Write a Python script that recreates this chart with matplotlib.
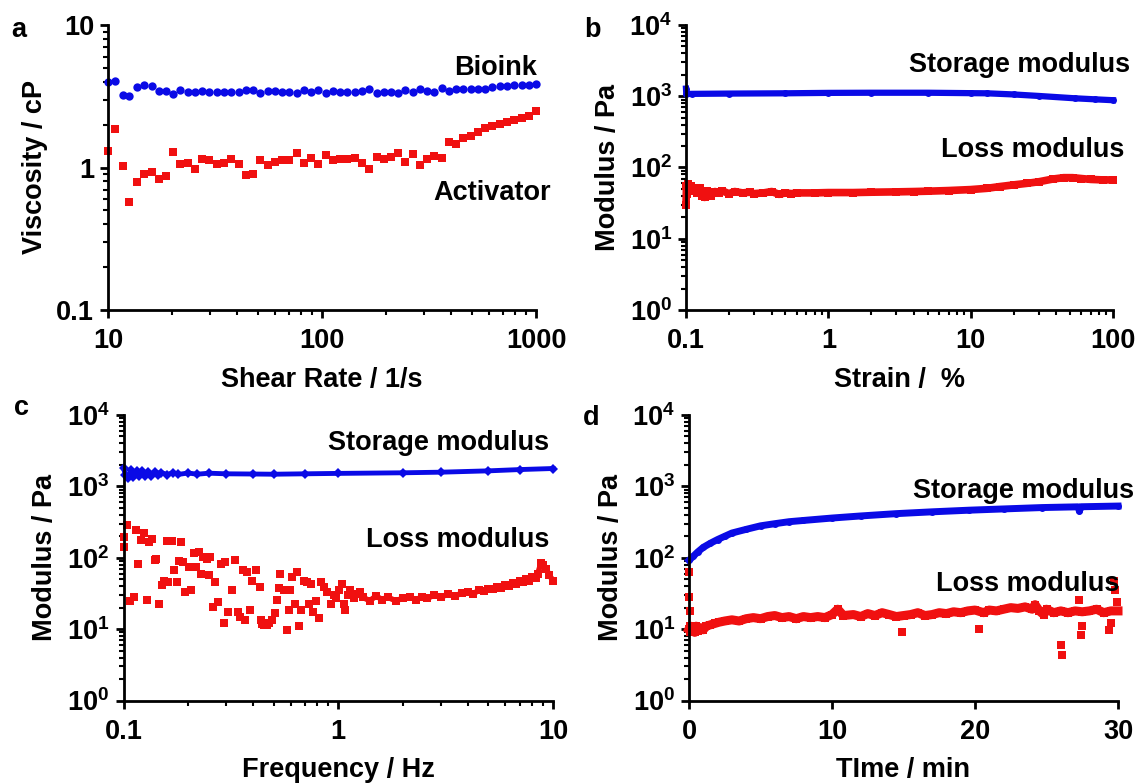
import matplotlib.pyplot as plt
from matplotlib.ticker import NullFormatter

plt.rcParams['font.family'] = ['Liberation Sans', 'DejaVu Sans']
plt.rcParams['font.weight'] = 'bold'
plt.rcParams['axes.labelweight'] = 'bold'
plt.rcParams['mathtext.fontset'] = 'custom'
plt.rcParams['mathtext.rm'] = 'Liberation Sans:bold'
plt.rcParams['mathtext.it'] = 'Liberation Sans:bold'
plt.rcParams['mathtext.bf'] = 'Liberation Sans:bold'

BLUE = '#0a0ae6'
RED = '#f01010'
FS = 19.5

# --- a: viscosity vs shear rate
a_shear = [10.0, 10.8, 11.7, 12.6, 13.7, 14.8, 16.0, 17.3, 18.7, 20.2,
           21.8, 23.6, 25.5, 27.6, 29.8, 32.3, 34.9, 37.7, 40.8, 44.1,
           47.7, 51.5, 55.7, 60.2, 65.1, 70.4, 76.1, 82.3, 89.0, 96.2,
           104, 112, 122, 131, 142, 154, 166, 180, 194, 210,
           227, 245, 265, 287, 310, 335, 363, 392, 424, 458,
           496, 536, 579, 626, 677, 732, 792, 856, 925, 1000]
a_bioink = [4.00, 4.06, 3.23, 3.18, 3.65, 3.78, 3.73, 3.44, 3.44, 3.26,
            3.50, 3.40, 3.40, 3.46, 3.37, 3.39, 3.37, 3.37, 3.39, 3.50,
            3.50, 3.33, 3.46, 3.44, 3.40, 3.40, 3.32, 3.50, 3.37, 3.50,
            3.33, 3.44, 3.37, 3.37, 3.37, 3.44, 3.56, 3.33, 3.37, 3.37,
            3.32, 3.50, 3.37, 3.56, 3.46, 3.40, 3.61, 3.42, 3.57, 3.56,
            3.56, 3.56, 3.57, 3.69, 3.73, 3.75, 3.77, 3.77, 3.81, 3.83]
a_activator = [1.31, 1.86, 1.02, 0.576, 0.796, 0.895, 0.935, 0.826, 0.872, 1.29,
               1.06, 1.07, 0.971, 1.14, 1.13, 1.05, 1.08, 1.15, 1.05, 0.886,
               0.90, 1.12, 1.04, 1.10, 1.12, 1.12, 1.27, 1.08, 1.17, 1.06,
               1.22, 1.12, 1.14, 1.14, 1.17, 1.08, 0.981, 1.19, 1.14, 1.185,
               1.26, 1.09, 1.25, 1.04, 1.147, 1.20, 1.166, 1.52, 1.455, 1.60,
               1.66, 1.77, 1.88, 1.955, 2.02, 2.08, 2.15, 2.22, 2.30, 2.48]

# --- b: amplitude sweep
b_strain_s = [0.1, 0.1005, 0.11, 0.2, 0.5, 1, 2, 5, 10, 13, 20, 30, 54, 75, 100]
b_storage = [1280, 1076, 1080, 1090, 1100, 1115, 1120, 1120, 1105, 1100,
             1060, 1010, 936, 905, 880]
b_strain_l = [0.1, 0.1008, 0.102, 0.104, 0.106, 0.108, 0.11, 0.113, 0.116, 0.12,
              0.125, 0.13, 0.135, 0.14, 0.145, 0.15, 0.16, 0.17, 0.18, 0.2,
              0.22, 0.25, 0.28, 0.3, 0.35, 0.4, 0.45, 0.5, 0.55, 0.6,
              0.8, 1, 1.5, 2, 3, 4, 5, 7, 10, 13,
              16, 20, 25, 30, 38, 45, 52, 60, 70, 85, 100]
b_loss = [30, 55, 42, 58, 50, 55, 47, 52, 48, 44,
          52, 40, 38, 47, 43, 40, 46, 44, 47, 43,
          46, 44, 45, 43, 44, 46, 42, 44, 43, 44,
          44, 44.5, 44.5, 45, 45.5, 46, 46.5, 47.5, 49, 51,
          54, 57, 60, 63, 69, 72, 72, 70, 68, 67, 67]

# --- c: frequency sweep
c_freq_s = [0.1, 0.102, 0.105, 0.108, 0.111, 0.115, 0.118, 0.122, 0.126, 0.13,
            0.135, 0.14, 0.145, 0.15, 0.16, 0.17, 0.18, 0.2, 0.22, 0.25,
            0.3, 0.4, 0.5, 0.7, 1, 2, 3, 5, 7, 10]
c_storage = [1800, 1450, 1300, 1700, 1350, 1650, 1400, 1620, 1380, 1600,
             1420, 1580, 1450, 1560, 1460, 1560, 1470, 1540, 1480, 1530,
             1500, 1490, 1480, 1500, 1520, 1550, 1580, 1650, 1720, 1780]
c_freq_l = [0.100, 0.101, 0.104, 0.107, 0.112, 0.114, 0.117, 0.121, 0.125, 0.128,
            0.131, 0.136, 0.140, 0.142, 0.146, 0.151, 0.154, 0.160, 0.162, 0.168,
            0.172, 0.178, 0.182, 0.185, 0.189, 0.194, 0.201, 0.207, 0.213, 0.217,
            0.224, 0.230, 0.234, 0.244, 0.249, 0.254, 0.262, 0.266, 0.274, 0.285,
            0.294, 0.296, 0.306, 0.320, 0.330, 0.340, 0.349, 0.360, 0.367, 0.377,
            0.390, 0.398, 0.414, 0.430, 0.435, 0.442, 0.452, 0.464, 0.478, 0.493,
            0.508, 0.516, 0.528, 0.537, 0.558, 0.576, 0.587, 0.599, 0.611, 0.627,
            0.642, 0.660, 0.672, 0.694, 0.713, 0.727, 0.750, 0.762, 0.786, 0.811,
            0.834, 0.861, 0.888, 0.924, 0.953, 0.980, 1.01, 1.04, 1.06, 1.08,
            1.11, 1.14, 1.18, 1.21, 1.26,
            1.3, 1.4, 1.5, 1.6, 1.7, 1.85, 2.0, 2.15, 2.3, 2.45,
            2.6, 2.8, 3.0, 3.25, 3.5, 3.75, 4.0, 4.25, 4.5, 4.75,
            5.0, 5.25, 5.5, 5.75, 6.0, 6.25, 6.5, 6.75, 7.0, 7.25,
            7.5, 7.75, 8.0, 8.3, 8.5, 8.8, 9.0, 9.3, 9.6, 10.0]
c_loss = [196, 142, 286, 24.7, 28, 243, 83, 176, 223, 25.2,
          167, 186, 92, 97, 22.6, 41, 48, 172, 46, 172,
          67, 46, 90, 167, 87, 33, 74, 35, 117, 74,
          121, 60, 103, 97, 57, 103, 20.4, 46, 24, 83,
          12.2, 87, 17.4, 35, 92, 17.4, 14.8, 67, 13.3, 63,
          18.3, 48, 67, 39, 13.3, 11.9, 11.3, 11.3, 12.2, 13.3,
          16.8, 25.9, 38, 60, 35, 9.8, 18.3, 35, 54, 22.2,
          63, 11.2, 18.3, 48, 46, 22.6, 43, 17.4, 24.5, 14.3,
          46, 39, 33, 22.6, 30, 27, 35, 43, 22.6, 18.3,
          30, 35, 27, 31, 33,
          28, 25, 29, 26, 28, 25, 27, 28, 26, 28,
          27, 30, 28, 31, 29, 32, 33, 31, 35, 34,
          37, 36, 39, 38, 42, 40, 44, 43, 47, 46,
          50, 48, 53, 52, 60, 85, 80, 70, 57, 48]

# --- d: time sweep
d_time_s = [0, 0.3, 0.6, 1, 1.5, 2, 2.5, 3, 4, 5,
            6, 7, 8, 10, 12, 14.5, 17, 19.6, 22, 24.7,
            27.2, 27.3, 27.4, 30]
d_storage = [92, 105, 120, 140, 160, 180, 200, 222, 250, 280,
             300, 320, 333, 360, 385, 415, 440, 464, 483, 505,
             517, 450, 518, 530]
d_time_l = [0, 0.1, 0.2, 0.3, 0.4, 0.5, 0.6, 0.8, 1.0, 1.2,
            1.5, 1.8, 2.1, 2.5, 3, 3.5, 4, 4.5, 5, 5.5,
            6, 6.5, 7, 7.5, 8, 8.5, 9, 9.5, 10, 10.4,
            10.8, 11.5, 12, 12.5, 13, 13.5, 14, 14.5, 15, 15.5,
            16, 16.5, 17, 17.5, 18, 18.5, 19, 19.5, 20, 20.6,
            21, 21.5, 22, 22.5, 23, 23.5, 24, 24.2, 24.5, 24.8,
            25, 25.5, 26, 26.5, 27, 27.5, 28, 28.5, 29, 29.5, 30]
d_loss = [10, 11, 9.5, 10.5, 9, 11, 9.5, 10.5, 9.8, 11,
          11.5, 12, 12.5, 13, 13.5, 13, 14, 14.5, 14, 15,
          15.5, 14.5, 15, 14, 15, 14.5, 15, 14.5, 16, 19,
          15.5, 16, 15, 16.5, 15.5, 17, 16, 15, 15.5, 16,
          17, 15.5, 16, 17, 16.5, 17.5, 17, 18, 18.5, 17,
          18.5, 18, 19, 20, 19.5, 20.5, 19, 22, 18, 16,
          19, 17, 18, 17, 18, 17.5, 18, 19, 17, 18, 18]
d_out_t = [0, 0.02, 0.04, 0.06, 14.9, 20.3, 26, 26.05, 27.3, 27.4, 27.5, 29.4, 29.5, 29.7, 29.8, 29.9]
d_out = [63, 28, 18, 9, 9, 10, 5.9, 4.4, 26, 8.2, 11, 9.6, 12, 48, 35, 24]

W, H = 1140, 783
fig = plt.figure(figsize=(W / 100, H / 100), dpi=100)


def px_axes(l, t, r, b):
    return fig.add_axes([l / W, 1 - b / H, (r - l) / W, (b - t) / H])


def style(ax):
    for s in ['top', 'right']:
        ax.spines[s].set_visible(False)
    for s in ['left', 'bottom']:
        ax.spines[s].set_linewidth(2)
    ax.tick_params(which='major', direction='out', length=6, width=2,
                   labelsize=FS, pad=4)
    ax.tick_params(axis='x', which='major', pad=7)
    ax.tick_params(which='minor', direction='out', length=3.5, width=1.5)
    ax.xaxis.set_minor_formatter(NullFormatter())
    ax.yaxis.set_minor_formatter(NullFormatter())


pow_labels = [r'$\mathrm{10^{%d}}$' % k for k in range(5)]
pow_ticks = [1, 10, 100, 1000, 10000]

# panel a
ax = px_axes(108, 25, 536, 310)
ax.set_xscale('log')
ax.set_yscale('log')
ax.plot(a_shear, a_bioink, 'o', color=BLUE, ms=6, mew=0, clip_on=False)
ax.plot(a_shear, a_activator, 's', color=RED, ms=5.5, mew=0, clip_on=False)
ax.set_xlim(10, 1000)
ax.set_ylim(0.1, 10)
ax.set_xticks([10, 100, 1000], ['10', '100', '1000'])
ax.set_yticks([0.1, 1, 10], ['0.1', '1', '10'])
style(ax)
ax.set_xlabel('Shear Rate / 1/s', fontsize=FS, labelpad=9)
ax.set_ylabel('Viscosity / cP', fontsize=FS, labelpad=6)

# panel b
ax = px_axes(686, 25, 1113, 310)
ax.set_xscale('log')
ax.set_yscale('log')
ax.plot(b_strain_s, b_storage, '-o', color=BLUE, lw=4.5, ms=5, mew=0, clip_on=False)
ax.plot(b_strain_l, b_loss, '-s', color=RED, lw=5.5, ms=5.5, mew=0, clip_on=False)
ax.set_xlim(0.1, 100)
ax.set_ylim(1, 10000)
ax.set_xticks([0.1, 1, 10, 100], ['0.1', '1', '10', '100'])
ax.set_yticks(pow_ticks, pow_labels)
style(ax)
ax.set_xlabel('Strain /  %', fontsize=FS, labelpad=9)
ax.set_ylabel('Modulus / Pa', fontsize=FS, labelpad=6)

# panel c
ax = px_axes(123.5, 415, 553, 700.5)
ax.set_xscale('log')
ax.set_yscale('log')
ax.plot(c_freq_s, c_storage, '-D', color=BLUE, lw=3.5, ms=5, mew=0, clip_on=False)
ax.plot(c_freq_l[95:], c_loss[95:], '-', color=RED, lw=4, clip_on=False)
ax.plot(c_freq_l, c_loss, 's', color=RED, ms=5.5, mew=0, clip_on=False)
ax.set_xlim(0.1, 10)
ax.set_ylim(1, 10000)
ax.set_xticks([0.1, 1, 10], ['0.1', '1', '10'])
ax.set_yticks(pow_ticks, pow_labels)
style(ax)
ax.set_xlabel('Frequency / Hz', fontsize=FS, labelpad=9)
ax.set_ylabel('Modulus / Pa', fontsize=FS, labelpad=6)

# panel d
ax = px_axes(689, 415, 1118, 700.5)
ax.set_yscale('log')
ax.plot(d_time_s, d_storage, '-o', color=BLUE, lw=5, ms=5, mew=0, clip_on=False)
ax.plot(d_time_l, d_loss, '-s', color=RED, lw=6.5, ms=6, mew=0, clip_on=False)
ax.plot(d_out_t, d_out, 's', color=RED, ms=5.5, mew=0, clip_on=False)
ax.set_xlim(0, 30)
ax.set_ylim(1, 10000)
ax.set_xticks([0, 10, 20, 30], ['0', '10', '20', '30'])
ax.set_yticks(pow_ticks, pow_labels)
style(ax)
ax.set_xlabel('TIme / min', fontsize=FS, labelpad=9)
ax.set_ylabel('Modulus / Pa', fontsize=FS, labelpad=6)

# annotations: (text, right px, baseline px)
notes = [('Bioink', 537, 75), ('Activator', 551, 200),
         ('Storage modulus', 1130, 72), ('Loss modulus', 1124, 157),
         ('Storage modulus', 549, 450), ('Loss modulus', 549, 547),
         ('Storage modulus', 1134, 498), ('Loss modulus', 1119, 591)]
for txt, xr, yb in notes:
    fig.text(xr / W, 1 - yb / H, txt, ha='right', va='baseline',
             fontsize=FS, fontweight='bold')

for letter, xl, yb in [('a', 11, 37), ('b', 584, 37), ('c', 14, 415), ('d', 583, 425)]:
    fig.text(xl / W, 1 - yb / H, letter, ha='left', va='baseline',
             fontsize=FS, fontweight='bold')

fig.savefig('out.png', dpi=100)
